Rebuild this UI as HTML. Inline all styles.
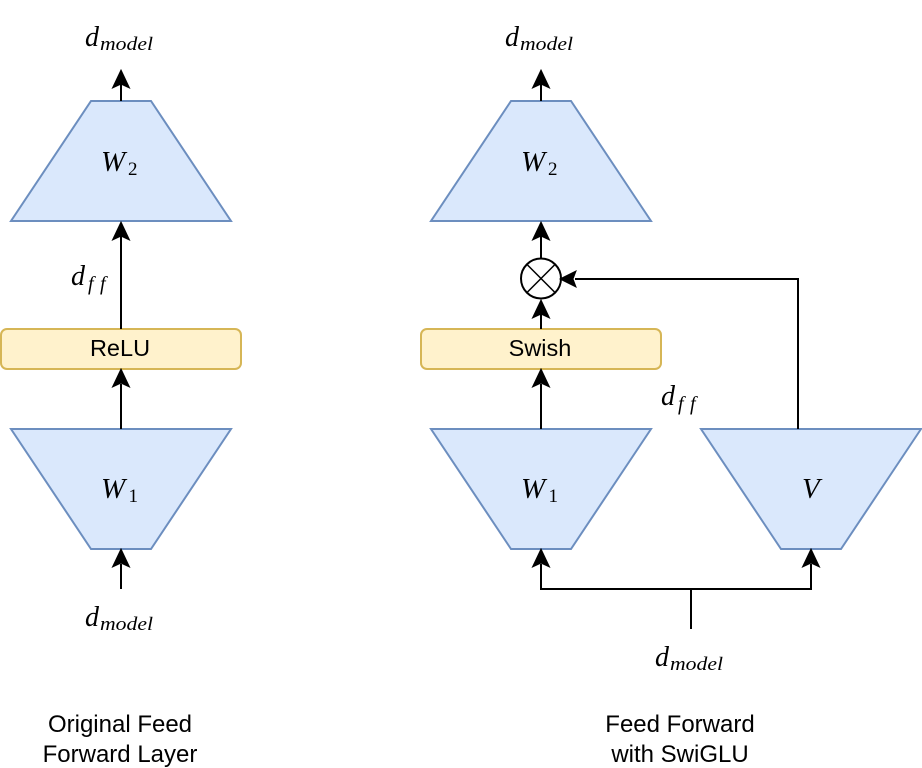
<!DOCTYPE html>
<html><head><meta charset="utf-8"><style>
html,body{margin:0;padding:0;background:#fff;width:922px;height:768px;overflow:hidden}
svg{display:block}
.t{fill:#dae8fc;stroke:#6c8ebf;stroke-width:2}
.b{fill:#fff2cc;stroke:#d6b656;stroke-width:2}
.l{fill:none;stroke:#000;stroke-width:2}
.h{fill:#000;stroke:#000;stroke-width:1}
.s{font-family:"Liberation Sans",sans-serif;font-size:23.5px;fill:#000;text-anchor:middle}
.c{font-size:24px}
.m{font-family:"Liberation Serif",serif;font-style:italic;fill:#000}
.r{font-family:"Liberation Serif",serif;fill:#000}
</style></head><body>
<svg width="922" height="768" viewBox="0 0 922 768" xmlns="http://www.w3.org/2000/svg">
<defs>
<path id="up" class="h" d="M0 0L8.5 18L0 14L-8.5 18Z"/>
<path id="left" class="h" d="M0 0L16 -8L13 0L16 8Z"/>
</defs>

<!-- left -->
<polygon class="t" points="11,221 231,221 151,101 91,101"/>
<polygon class="t" points="11,429 231,429 151,549 91,549"/>
<rect class="b" x="1" y="329" width="240" height="40" rx="6"/>
<path class="l" d="M121 101V84M121 329V236M121 429V384M121 589V564"/>
<use href="#up" x="121" y="70"/>
<use href="#up" x="121" y="222"/>
<use href="#up" x="121" y="369"/>
<use href="#up" x="121" y="549"/>

<!-- right -->
<polygon class="t" points="431,221 651,221 571,101 511,101"/>
<polygon class="t" points="431,429 651,429 571,549 511,549"/>
<polygon class="t" points="701,429 921,429 841,549 781,549"/>
<rect class="b" x="421" y="329" width="240" height="40" rx="6"/>
<circle cx="541" cy="278.5" r="20" fill="#fff" stroke="#000" stroke-width="2"/>
<path d="M526.9 264.4L555.1 292.6M555.1 264.4L526.9 292.6" stroke="#000" stroke-width="1.5" fill="none"/>
<path class="l" d="M541 101V84M541 258V236M541 329V312M541 429V384M798 429V279H575M541 564V589H811V564M691 589V629"/>
<use href="#up" x="541" y="70"/>
<use href="#up" x="541" y="222"/>
<use href="#up" x="541" y="300"/>
<use href="#up" x="541" y="369"/>
<use href="#up" x="541" y="549"/>
<use href="#up" x="811" y="549"/>
<use href="#left" x="560" y="279"/>

<!-- math labels -->
<g id="lbls">
<text class="m" x="85" y="46" font-size="28">d</text><text class="m" x="100" y="50" font-size="19" textLength="53" lengthAdjust="spacingAndGlyphs">model</text>
<text class="m" x="505" y="46" font-size="28">d</text><text class="m" x="520" y="50" font-size="19" textLength="53" lengthAdjust="spacingAndGlyphs">model</text>
<text class="m" x="85" y="626" font-size="28">d</text><text class="m" x="100" y="630" font-size="19" textLength="53" lengthAdjust="spacingAndGlyphs">model</text>
<text class="m" x="655" y="666" font-size="28">d</text><text class="m" x="670" y="670" font-size="19" textLength="53" lengthAdjust="spacingAndGlyphs">model</text>

<text class="m" x="71" y="285" font-size="28">d</text><text class="m" x="88 100" y="290" font-size="20">ff</text>
<text class="m" x="661" y="405" font-size="28">d</text><text class="m" x="678 690" y="410" font-size="20">ff</text>

<text class="m" x="101" y="171" font-size="29">W</text><text class="r" x="128" y="175" font-size="19">2</text>
<text class="m" x="521" y="171" font-size="29">W</text><text class="r" x="548" y="175" font-size="19">2</text>
<text class="m" x="101" y="498" font-size="29">W</text><text class="r" x="128.5" y="502" font-size="19">1</text>
<text class="m" x="521" y="498" font-size="29">W</text><text class="r" x="548.5" y="502" font-size="19">1</text>
<text class="m" x="802" y="498" font-size="29">V</text>
</g>

<!-- text -->
<text class="s" x="120" y="356">ReLU</text>
<text class="s" x="540" y="356">Swish</text>
<text class="s c" x="120" y="732">Original Feed</text>
<text class="s c" x="120" y="762">Forward Layer</text>
<text class="s c" x="680" y="732">Feed Forward</text>
<text class="s c" x="680" y="762">with SwiGLU</text>
</svg>
</body></html>
